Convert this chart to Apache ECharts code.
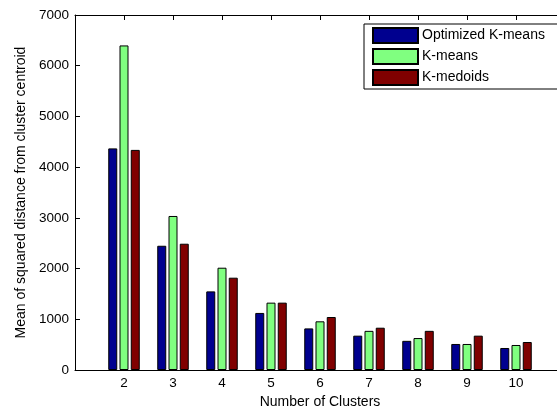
<!DOCTYPE html>
<html><head><meta charset="utf-8">
<script src="https://cdn.jsdelivr.net/npm/echarts@6/dist/echarts.min.js"></script>
<style>html,body{margin:0;padding:0;background:#fff}#c{width:557px;height:407px}</style>
</head><body><div id="c"></div>
<script>
const clusters = ['2','3','4','5','6','7','8','9','10'];
const optimizedKMeans = [4370, 2450, 1550, 1125, 820, 677, 575, 513, 434];
const kMeans = [6400, 3037, 2017, 1328, 960, 772, 630, 513, 493];
const kMedoids = [4340, 2490, 1820, 1328, 1045, 834, 772, 677, 552];
const yTicks = [0, 1000, 2000, 3000, 4000, 5000, 6000, 7000];

const axisCats = [''].concat(clusters).concat(['']);
const pad = arr => ['-'].concat(arr).concat(['-']);
const font = 'Liberation Sans';
const chart = echarts.init(document.getElementById('c'), null, {renderer: 'canvas'});
const mk = (name, data, color) => ({
  name, type: 'bar', data: pad(data), barWidth: 9, barGap: '25%',
  itemStyle: {color, borderColor: '#000', borderWidth: 1}
});
chart.setOption({
  animation: false,
  backgroundColor: '#fff',
  textStyle: {fontFamily: font},
  grid: {left: 75, top: 15, height: 355, width: 490, outerBoundsMode: 'none', containLabel: false},
  legend: {
    orient: 'vertical', left: 364, top: 24, icon: 'rect',
    itemWidth: 45, itemHeight: 15, itemGap: 4,
    padding: [3, 40, 3, 8],
    borderColor: '#000', borderWidth: 1, backgroundColor: '#fff',
    textStyle: {fontFamily: font, fontSize: 14, color: '#000', padding: [0, 0, 0, -1]},
    data: ['Optimized K-means', 'K-means', 'K-medoids']
  },
  xAxis: [{
    type: 'category', data: axisCats, boundaryGap: false,
    name: 'Number of Clusters', nameLocation: 'middle', nameGap: 23,
    nameTextStyle: {fontFamily: font, fontSize: 14, color: '#000'},
    axisLine: {lineStyle: {color: '#000', width: 1}},
    axisTick: {inside: true, length: 5, lineStyle: {color: '#000'}},
    axisLabel: {color: '#000', fontSize: 13.5, margin: 6, interval: 0},
    splitLine: {show: false}
  }, {
    type: 'category', data: axisCats, boundaryGap: false, position: 'top',
    axisLine: {lineStyle: {color: '#000', width: 1}},
    axisTick: {inside: true, length: 5, lineStyle: {color: '#000'}},
    axisLabel: {show: false}, splitLine: {show: false}
  }],
  yAxis: {
    type: 'value', min: yTicks[0], max: yTicks[yTicks.length - 1], interval: 1000,
    name: 'Mean of squared distance from cluster centroid', nameLocation: 'middle', nameGap: 40,
    nameTextStyle: {fontFamily: font, fontSize: 14, color: '#000'},
    axisLine: {show: true, lineStyle: {color: '#000', width: 1}},
    axisTick: {show: true, inside: true, length: 5, lineStyle: {color: '#000'}},
    axisLabel: {color: '#000', fontSize: 13.5, margin: 6, formatter: v => String(v)},
    splitLine: {show: false}
  },
  series: [
    mk('Optimized K-means', optimizedKMeans, '#00008F'),
    mk('K-means', kMeans, '#80FF80'),
    mk('K-medoids', kMedoids, '#800000')
  ]
});
</script></body></html>
